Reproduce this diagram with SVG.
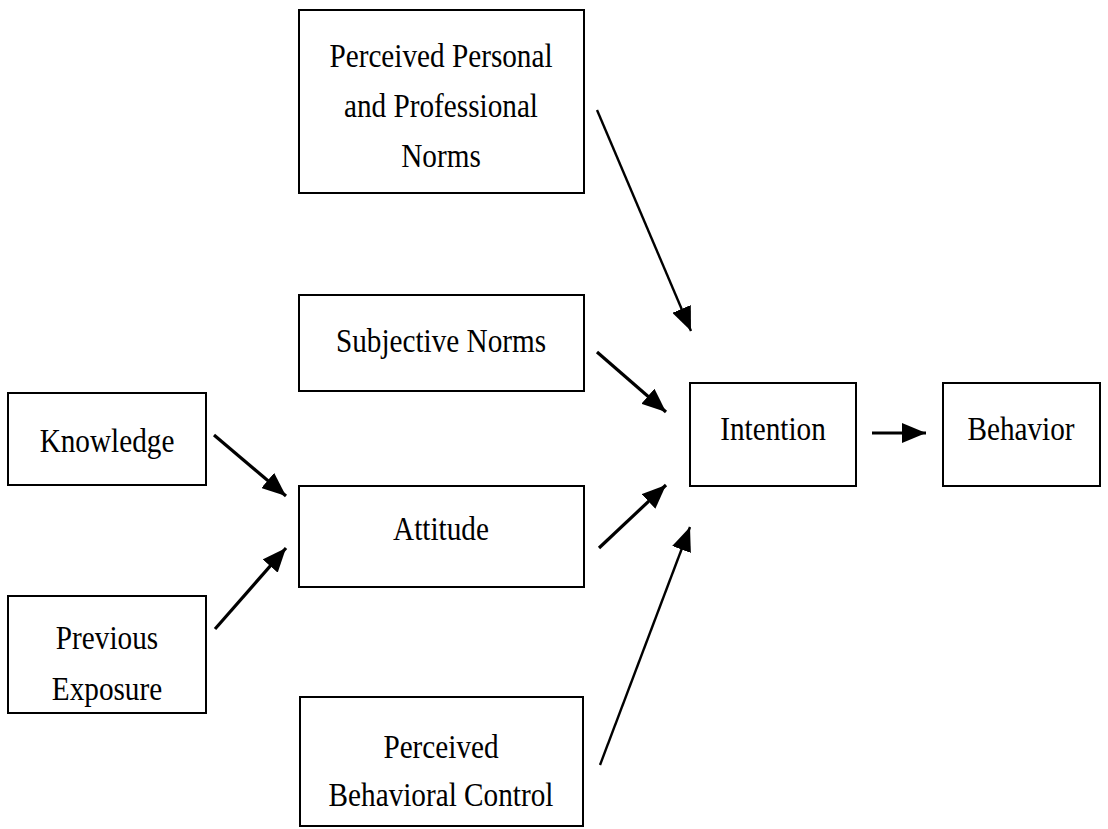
<svg xmlns="http://www.w3.org/2000/svg" width="1108" height="829" viewBox="0 0 1108 829">
<style>
.box{fill:#fff;stroke:#000;stroke-width:2}
.lbl{font-family:"Liberation Serif","Times New Roman",serif;font-size:34px;fill:#000;text-anchor:middle}
.arr{stroke:#000;stroke-width:3.2;fill:none;marker-end:url(#ah)}
.arr2{stroke:#000;stroke-width:2.4;fill:none;marker-end:url(#ah)}
</style>
<defs>
<marker id="ah" markerUnits="userSpaceOnUse" markerWidth="26" markerHeight="20" refX="24" refY="10" orient="auto">
<path d="M0,0 L24,10 L0,20 z" fill="#000"/>
</marker>
</defs>
<rect width="1108" height="829" fill="#fff"/>
<g id="n-pppn">
<rect class="box" x="299" y="10" width="285" height="183"/>
<text class="lbl" transform="translate(441,67) scale(0.86,1)">Perceived Personal</text>
<text class="lbl" transform="translate(441,117) scale(0.86,1)">and Professional</text>
<text class="lbl" transform="translate(441,167) scale(0.86,1)">Norms</text>
</g>
<g id="n-sn">
<rect class="box" x="299" y="295" width="285" height="96"/>
<text class="lbl" transform="translate(441,352) scale(0.86,1)">Subjective Norms</text>
</g>
<g id="n-knowledge">
<rect class="box" x="8" y="393" width="198" height="92"/>
<text class="lbl" transform="translate(107,452) scale(0.86,1)">Knowledge</text>
</g>
<g id="n-attitude">
<rect class="box" x="299" y="486" width="285" height="101"/>
<text class="lbl" transform="translate(441,540) scale(0.86,1)">Attitude</text>
</g>
<g id="n-prev">
<rect class="box" x="8" y="596" width="198" height="117"/>
<text class="lbl" transform="translate(107,649) scale(0.86,1)">Previous</text>
<text class="lbl" transform="translate(107,700) scale(0.86,1)">Exposure</text>
</g>
<g id="n-pbc">
<rect class="box" x="300" y="697" width="283" height="129"/>
<text class="lbl" transform="translate(441,758) scale(0.86,1)">Perceived</text>
<text class="lbl" transform="translate(441,806) scale(0.86,1)">Behavioral Control</text>
</g>
<g id="n-intention">
<rect class="box" x="690" y="383" width="166" height="103"/>
<text class="lbl" transform="translate(773,440) scale(0.86,1)">Intention</text>
</g>
<g id="n-behavior">
<rect class="box" x="943" y="383" width="157" height="103"/>
<text class="lbl" transform="translate(1021,440) scale(0.86,1)">Behavior</text>
</g>
<g id="connectors">
<line class="arr2" x1="597" y1="110" x2="691" y2="331"/>
<line class="arr" x1="597" y1="352" x2="666" y2="412"/>
<line class="arr" x1="599" y1="548" x2="666" y2="485"/>
<line class="arr2" x1="600" y1="765" x2="690" y2="527"/>
<line class="arr" x1="214" y1="435" x2="286" y2="496"/>
<line class="arr" x1="215" y1="629" x2="286" y2="548"/>
<line class="arr" x1="872" y1="433" x2="926" y2="433"/>
</g>
</svg>
